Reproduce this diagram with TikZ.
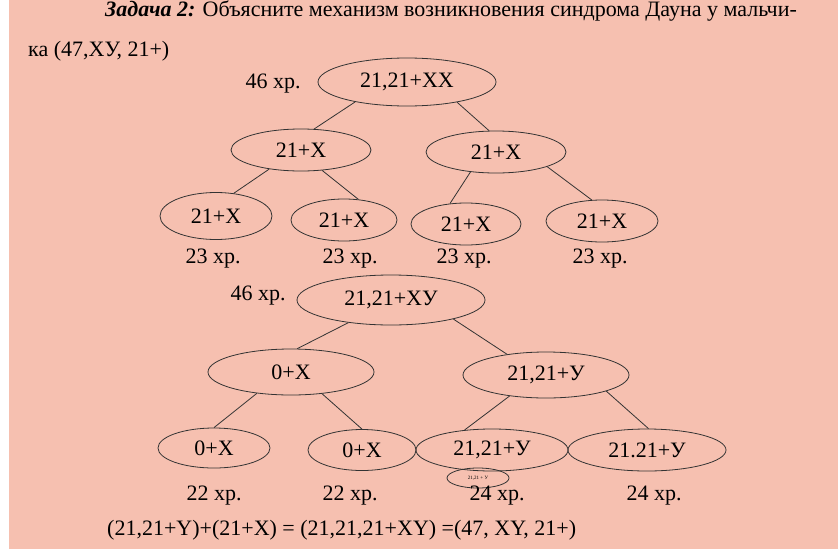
\documentclass[tikz,border=0pt]{standalone}
\usepackage{fontspec}
\setmainfont{Liberation Serif}
\usetikzlibrary{shapes.geometric}
\definecolor{bgpink}{RGB}{246,192,176}
\tikzset{
every node/.style={inner sep=0pt, font=\fontsize{22}{26}\selectfont},
cell/.style 2 args={ellipse, draw=black!80, line width=0.8pt, minimum width=#1, minimum height=#2},
link/.style={draw=black!80, line width=0.8pt}
}
\begin{document}
\begin{tikzpicture}[x=1pt, y=-1pt]
\useasboundingbox (0,0) rectangle (838,549);
\fill[white] (0,0) rectangle (838,549);
\fill[bgpink] (9,0) rectangle (838,549);

\node[anchor=west] (t1) at (105,11) {\textbf{\textit{Задача 2:}} Объясните механизм возникновения синдрома Дауна у мальчи-};
\node[anchor=west] (t2) at (28,51) {ка (47,ХУ, 21+)};

% first tree
\node (n1) at (273,84) {46 хр.};
\node[cell={178}{48}] (r1) at (407,82) {21,21+ХХ};
\node[cell={140}{42}] (a) at (301,150) {21+Х};
\node[cell={140}{42}] (b) at (496,152) {21+Х};
\node[cell={112}{47}] (a1) at (216,216) {21+Х};
\node[cell={106}{42}] (a2) at (344,220) {21+Х};
\node[cell={110}{42}] (b1) at (466,224) {21+Х};
\node[cell={112}{42}] (b2) at (602,221) {21+Х};
\node (k1) at (213,259) {23 хр.};
\node (k2) at (350,259) {23 хр.};
\node (k3) at (464,259) {23 хр.};
\node (k4) at (600,259) {23 хр.};

\draw[link] (r1.201.7) -- (a.58.8);
\draw[link] (r1.338.9) -- (b.108);
\draw[link] (a.211) -- (a1.52);
\draw[link] (a.316) -- (a2.55);
\draw[link] (b.218) -- (b1.128);
\draw[link] (b.344) -- (b2.116);

% second tree
\node (n2) at (258,296) {46 хр.};
\node[cell={188}{50}] (r2) at (391,300) {21,21+ХУ};
\node[cell={166}{46}] (c) at (291,372) {0+Х};
\node[cell={166}{46}] (d) at (546,375) {21,21+У};
\node[cell={112}{40}] (c1) at (214,448) {0+Х};
\node[cell={108}{41}] (c2) at (362,450) {0+Х};
\node[cell={152}{42}] (d1) at (492,450) {21,21+У};
\node[cell={158}{42}] (d2) at (647,450) {21.21+У};
\node[cell={62}{20}, font=\fontsize{5}{6}\selectfont] (d3) at (478,478) {21,21 + У};
\node (m1) at (214,496) {22 хр.};
\node (m2) at (350,496) {22 хр.};
\node (m3) at (497,496) {24 хр.};
\node (m4) at (654,496) {24 хр.};

\draw[link] (r2.208) -- (c.75);
\draw[link] (r2.343) -- (d.152);
\draw[link] (c.212) -- (c1.90);
\draw[link] (c.325) -- (c2.90);
\draw[link] (d.210) -- (d1.144);
\draw[link] (d.345) -- (d2.86);

\node[anchor=west] (f) at (107,530) {(21,21+Y)+(21+X) = (21,21,21+XY) =(47, XY, 21+)};
\end{tikzpicture}
\end{document}
